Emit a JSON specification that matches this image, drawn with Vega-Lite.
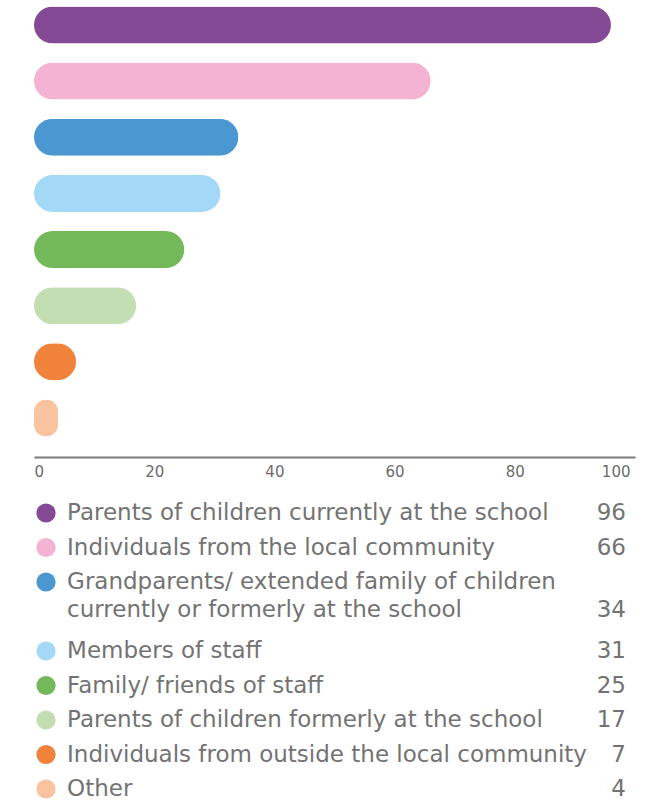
{
  "$schema": "https://vega.github.io/schema/vega-lite/v6.json",
  "padding": {"left": 34, "top": 0, "right": 26, "bottom": 0},
  "background": "white",
  "config": {"view": {"stroke": null}, "font": "DejaVu Sans"},
  "datasets": {
    "bars": [
      {"category": "Parents of children currently at the school", "value": 96},
      {"category": "Individuals from the local community", "value": 66},
      {"category": "Grandparents/ extended family of children currently or formerly at the school", "value": 34},
      {"category": "Members of staff", "value": 31},
      {"category": "Family/ friends of staff", "value": 25},
      {"category": "Parents of children formerly at the school", "value": 17},
      {"category": "Individuals from outside the local community", "value": 7},
      {"category": "Other", "value": 4}
    ],
    "lines": [
      {"line": "Parents of children currently at the school", "category": "Parents of children currently at the school", "value": 96},
      {"line": "Individuals from the local community", "category": "Individuals from the local community", "value": 66},
      {"line": "Grandparents/ extended family of children", "category": "Grandparents/ extended family of children currently or formerly at the school", "value": null},
      {"line": "currently or formerly at the school", "category": null, "value": 34},
      {"line": "Members of staff", "category": "Members of staff", "value": 31},
      {"line": "Family/ friends of staff", "category": "Family/ friends of staff", "value": 25},
      {"line": "Parents of children formerly at the school", "category": "Parents of children formerly at the school", "value": 17},
      {"line": "Individuals from outside the local community", "category": "Individuals from outside the local community", "value": 7},
      {"line": "Other", "category": "Other", "value": 4}
    ]
  },
  "vconcat": [
    {
      "width": 601,
      "height": 457,
      "data": {"name": "bars"},
      "mark": {"type": "bar", "cornerRadius": 18.5},
      "encoding": {
        "y": {
          "field": "category", "type": "nominal", "sort": null,
          "scale": {"paddingInner": 0.341, "paddingOuter": 0.24, "align": 0.24},
          "axis": null
        },
        "x": {
          "field": "value", "type": "quantitative",
          "scale": {"domain": [0, 100], "nice": false},
          "axis": {
            "values": [0, 20, 40, 60, 80, 100],
            "title": null, "grid": false, "ticks": false,
            "domainColor": "#7a7a7a", "domainWidth": 2,
            "labelFlush": false,
            "labelAlign": {"condition": [{"test": "datum.value === 0", "value": "left"}, {"test": "datum.value === 100", "value": "right"}], "value": "center"},
            "labelOffset": {"condition": {"test": "datum.value === 100", "value": -5}, "value": 0},
            "labelFontSize": 15, "labelColor": "#6b6b6b",
            "labelFont": "DejaVu Sans", "labelPadding": 7
          }
        },
        "color": {
          "field": "category", "type": "nominal", "legend": null,
          "scale": {
            "domain": ["Parents of children currently at the school", "Individuals from the local community", "Grandparents/ extended family of children currently or formerly at the school", "Members of staff", "Family/ friends of staff", "Parents of children formerly at the school", "Individuals from outside the local community", "Other"],
            "range": ["#844a95", "#f4b3d3", "#4a97d2", "#a3d9f7", "#73b95a", "#c4deb3", "#f0823c", "#f9c39f"]
          }
        }
      }
    },
    {
      "width": 601,
      "height": 276,
      "data": {"name": "lines"},
      "encoding": {
        "y": {
          "field": "line", "type": "nominal",
          "scale": {
            "type": "point", "padding": 0,
            "domain": ["Parents of children currently at the school", "Individuals from the local community", "Grandparents/ extended family of children", "currently or formerly at the school", "Members of staff", "Family/ friends of staff", "Parents of children formerly at the school", "Individuals from outside the local community", "Other"]
          },
          "axis": null
        }
      },
      "layer": [
        {
          "transform": [{"filter": "datum.category != null"}],
          "mark": {"type": "point", "shape": "circle", "filled": true, "opacity": 1, "size": 370},
          "encoding": {
            "x": {"datum": 2, "type": "quantitative", "scale": {"domain": [0, 100], "nice": false}, "axis": null},
            "color": {
              "field": "category", "type": "nominal", "legend": null,
              "scale": {
                "domain": ["Parents of children currently at the school", "Individuals from the local community", "Grandparents/ extended family of children currently or formerly at the school", "Members of staff", "Family/ friends of staff", "Parents of children formerly at the school", "Individuals from outside the local community", "Other"],
                "range": ["#844a95", "#f4b3d3", "#4a97d2", "#a3d9f7", "#73b95a", "#c4deb3", "#f0823c", "#f9c39f"]
              }
            }
          }
        },
        {
          "transform": [{"filter": "datum.category != null"}],
          "mark": {"type": "text", "align": "left", "baseline": "middle", "fontSize": 23, "color": "#737373", "font": "DejaVu Sans"},
          "encoding": {
            "x": {"datum": 5.5, "type": "quantitative"},
            "text": {"field": "line"}
          }
        },
        {
          "transform": [{"filter": "datum.category == null"}],
          "mark": {"type": "text", "align": "left", "baseline": "middle", "fontSize": 23, "color": "#737373", "font": "DejaVu Sans", "dy": -7},
          "encoding": {
            "x": {"datum": 5.5, "type": "quantitative"},
            "text": {"field": "line"}
          }
        },
        {
          "transform": [{"filter": "datum.value != null && datum.category != null"}],
          "mark": {"type": "text", "align": "right", "baseline": "middle", "fontSize": 23, "color": "#737373", "font": "DejaVu Sans"},
          "encoding": {
            "x": {"datum": 98.5, "type": "quantitative"},
            "text": {"field": "value", "type": "quantitative"}
          }
        },
        {
          "transform": [{"filter": "datum.value != null && datum.category == null"}],
          "mark": {"type": "text", "align": "right", "baseline": "middle", "fontSize": 23, "color": "#737373", "font": "DejaVu Sans", "dy": -7},
          "encoding": {
            "x": {"datum": 98.5, "type": "quantitative"},
            "text": {"field": "value", "type": "quantitative"}
          }
        }
      ]
    }
  ],
  "spacing": 23
}
